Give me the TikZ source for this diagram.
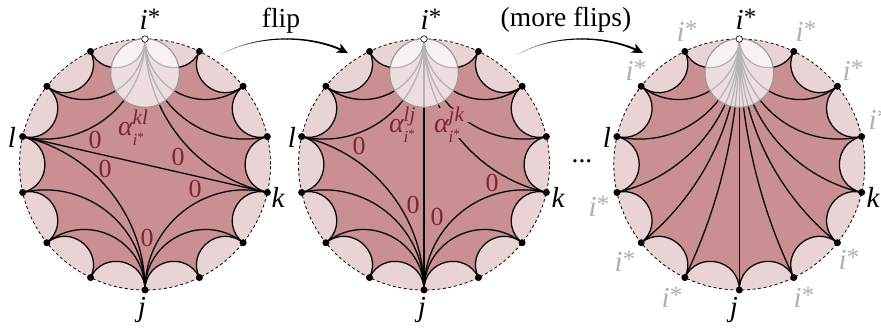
\documentclass[tikz,border=0pt]{standalone}
\usepackage{fontspec}
\setmainfont{Liberation Serif}
\usetikzlibrary{calc,arrows.meta}
\definecolor{darkfill}{HTML}{C98F92}
\definecolor{lightfill}{HTML}{E9D3D4}
\definecolor{labred}{HTML}{7E2630}
\definecolor{ghost}{HTML}{AFAFAF}
\newcommand\stari{{\itshape i}\raisebox{4pt}{\fontsize{25}{25}\selectfont *}}
\newcommand\alab[2]{\itshape α\makebox[0pt][l]{\raisebox{11pt}{\fontsize{21}{21}\selectfont #1}}\raisebox{-10pt}{\fontsize{17}{17}\selectfont i\raisebox{4pt}{\fontsize{13}{13}\selectfont\upshape *}}\hspace{#2}}
% geodesic between boundary vertices #2 and #3 of disk #1
\newcommand\geo[3]{%
  \pgfmathtruncatemacro\dd{min(abs(#2-#3),14-abs(#2-#3))}%
  \ifnum\dd=7
    \draw[chord] (#1#2) -- (#1#3);
  \else
    \pgfmathsetmacro\ff{4/3*tan((180-\dd*360/14)/4)*tan(\dd*180/14)}%
    \draw[chord] (#1#2) .. controls ($(#1#2)!\ff!(#1O)$) and ($(#1#3)!\ff!(#1O)$) .. (#1#3);
  \fi}
\newcommand\basedisk[2]{%
  \coordinate (#1O) at (#2,164.5);
  \foreach \i in {0,...,13}{\coordinate (#1\i) at ($(#1O)+({125.5*sin(\i*360/14)},{-125.5*cos(\i*360/14)})$);}
  \draw[rim] (#1O) circle[radius=125.5pt];
  \pgfmathsetmacro\fb{4/3*tan((180-360/14)/4)*tan(180/14)}
  \fill[darkfill] (#10) foreach \i in {0,...,13}{
    \pgfextra{\pgfmathtruncatemacro\jj{mod(\i+1,14)}}
    .. controls ($(#1\i)!\fb!(#1O)$) and ($(#1\jj)!\fb!(#1O)$) .. (#1\jj)} -- cycle;
  \foreach \i in {0,...,13}{\pgfmathtruncatemacro\kk{mod(\i+1,14)}\geo{#1}{\i}{\kk}}
}
\newcommand\topdisk[2]{%
  \coordinate (#1H) at (#2,73);
  \draw[horo] (#1H) circle[radius=34.3pt];
  \foreach \i in {1,...,13}{\node[vtx] (#1p\i) at (#1\i) {};}
  \node[vtxw] (#1p0) at (#10) {};
}
% tapered gradient arrow
\newcommand\flow[4]{%
  \coordinate (fs) at #1; \coordinate (fa) at #2; \coordinate (fb) at #3; \coordinate (fe) at #4;
  \foreach \n in {0,...,30}{%
    \pgfmathsetmacro\tq{\n/30}%
    \pgfmathsetmacro\ca{(1-\tq)^3}\pgfmathsetmacro\cb{3*\tq*(1-\tq)^2}%
    \pgfmathsetmacro\cc{3*\tq*\tq*(1-\tq)}\pgfmathsetmacro\cd{\tq^3}%
    \coordinate (fp\n) at ($\ca*(fs)+\cb*(fa)+\cc*(fb)+\cd*(fe)$);}
  \foreach \n in {1,...,27}{%
    \pgfmathtruncatemacro\mm{\n-1}%
    \pgfmathsetmacro\lw{0.25+1.8*\n/30}%
    \pgfmathtruncatemacro\sh{min(100,25+6*\n)}%
    \draw[line width=\lw pt,line cap=round,black!\sh!white] (fp\mm) -- (fp\n);}
  \draw[line width=1.9pt,-{Stealth[length=11pt,width=10pt,inset=3pt]}] (fp27) .. controls (fp28) and (fp29) .. (fp30);
}
\tikzset{
  x=1pt,y=-1pt,
  chord/.style={black,line width=1.25pt},
  rim/.style={fill=lightfill,draw=black,line width=0.8pt,dash pattern=on 3pt off 2.6pt},
  horo/.style={draw=black!40,line width=1.1pt,fill=white,fill opacity=0.7},
  vtx/.style={circle,fill=black,inner sep=0pt,minimum size=7pt},
  vtxw/.style={circle,fill=white,draw=black,line width=0.6pt,inner sep=0pt,minimum size=6.5pt},
  vname/.style={font=\fontsize{29}{29}\selectfont\itshape,inner sep=0pt},
  starname/.style={font=\fontsize{29}{29}\selectfont,inner sep=0pt},
  ghostname/.style={font=\fontsize{29}{29}\selectfont,inner sep=0pt,text=ghost},
  zerolab/.style={font=\fontsize{26}{26}\selectfont,inner sep=0pt,text=labred},
  alphalab/.style={font=\fontsize{28}{28}\selectfont,inner sep=0pt,text=labred},
  captext/.style={font=\fontsize{27.5}{27.5}\selectfont,inner sep=0pt},
}
\begin{document}
\begin{tikzpicture}
\clip (0,0) rectangle (881,328);
% ---------- disk 1
\basedisk{a}{145}
\foreach \u/\v in {0/12,0/11,0/2,0/3,0/4,11/4,11/7,4/7,10/7,9/7,5/7}{\geo{a}{\u}{\v}}
\topdisk{a}{145}
\node[starname] (ai) at (150,19) {\stari};
\node[vname] (al) at (12,137) {l};
\node[vname] (ak) at (278,197) {k};
\node[vname] (aj) at (142,310) {j};
\node[alphalab] (aa) at (131,128) {\alab{kl}{7pt}};
\node[zerolab] (az1) at (95,140) {0};
\node[zerolab] (az2) at (178,157) {0};
\node[zerolab] (az3) at (105,169) {0};
\node[zerolab] (az4) at (195,189) {0};
\node[zerolab] (az5) at (147,238) {0};
% ---------- disk 2
\basedisk{b}{424}
\foreach \u/\v in {0/12,0/11,0/2,0/3,0/4,0/7,11/7,4/7,10/7,9/7,5/7}{\geo{b}{\u}{\v}}
\fill[darkfill] (431,108) -- (471,108) -- (471,122) -- (460,122) -- (460,138) -- (431,138) -- cycle;
\topdisk{b}{424}
\node[starname] (bi) at (431,19) {\stari};
\node[vname] (bl) at (292,137) {l};
\node[vname] (bk) at (558,197) {k};
\node[vname] (bj) at (422,310) {j};
\node[alphalab] (ba1) at (402,125) {\alab{lj}{5pt}};
\node[alphalab] (ba2) at (447,125) {\alab{jk}{6pt}};
\node[zerolab] (bz1) at (359,146) {0};
\node[zerolab] (bz2) at (413,205) {0};
\node[zerolab] (bz3) at (437,217) {0};
\node[zerolab] (bz4) at (492,183) {0};
% ---------- disk 3
\basedisk{c}{739.3}
\foreach \v in {2,3,...,12}{\geo{c}{0}{\v}}
\topdisk{c}{739.3}
\node[starname] (ci) at (746,19) {\stari};
\node[vname] (cl) at (607,137) {l};
\node[vname] (ck) at (873,197) {k};
\node[vname] (cj) at (734,310) {j};
\foreach \nm/\x/\y in {g1/687/31,g2/806/31,g3/636/70,g4/853/70,g5/879/119,g6/599/206,g7/625/261,g8/672/297,g9/804/297,g10/849/259}{
  \node[ghostname] (\nm) at (\x,\y) {\stari};}
% ---------- captions and arrows
\node[captext] (flip) at (281,21) {flip};
\node[captext] (more) at (566,20) {(more flips)};
\node[captext] (dots) at (582,161) {...};
\flow{(220,55)}{(255,35)}{(310,33)}{(348,53)}
\flow{(517,55)}{(550,35)}{(605,33)}{(643,53)}
\end{tikzpicture}
\end{document}
